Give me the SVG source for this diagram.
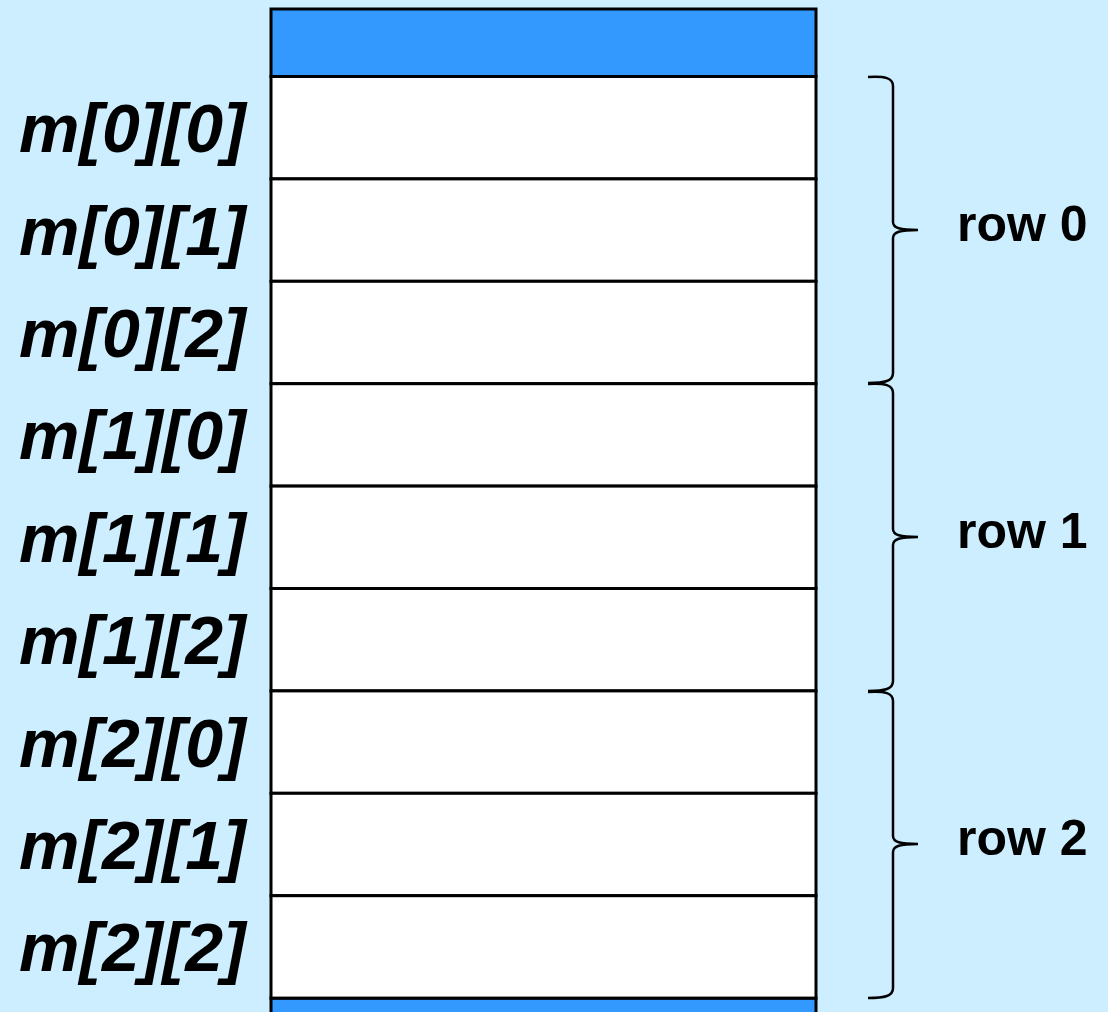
<svg xmlns="http://www.w3.org/2000/svg" width="1108" height="1012" viewBox="0 0 1108 1012">
<style>
.cell{fill:#ffffff;stroke:#000;stroke-width:3}
.band{fill:#3399ff;stroke:#000;stroke-width:3}
.lbl{font-family:"Liberation Sans",Arial,sans-serif;font-weight:bold;font-style:italic;font-size:68px;fill:#000}
.row{font-family:"Liberation Sans",Arial,sans-serif;font-weight:bold;font-size:50px;fill:#000}
.brace{fill:none;stroke:#000;stroke-width:2.5}
</style>
<rect x="0" y="0" width="1108" height="1012" fill="#cceeff"/>
<g id="memory">
<rect class="band" x="271" y="9" width="545" height="67.5"/>
<rect class="band" x="271" y="998.1" width="545" height="30"/>
</g>
<g id="m00"><rect class="cell" x="271" y="76.5" width="545" height="102.4"/><text class="lbl" x="19" y="152">m[0][0]</text></g>
<g id="m01"><rect class="cell" x="271" y="178.9" width="545" height="102.4"/><text class="lbl" x="19" y="254.5">m[0][1]</text></g>
<g id="m02"><rect class="cell" x="271" y="281.3" width="545" height="102.4"/><text class="lbl" x="19" y="357">m[0][2]</text></g>
<g id="m10"><rect class="cell" x="271" y="383.7" width="545" height="102.4"/><text class="lbl" x="19" y="459">m[1][0]</text></g>
<g id="m11"><rect class="cell" x="271" y="486.1" width="545" height="102.4"/><text class="lbl" x="19" y="562">m[1][1]</text></g>
<g id="m12"><rect class="cell" x="271" y="588.5" width="545" height="102.4"/><text class="lbl" x="19" y="664">m[1][2]</text></g>
<g id="m20"><rect class="cell" x="271" y="690.9" width="545" height="102.4"/><text class="lbl" x="19" y="766.5">m[2][0]</text></g>
<g id="m21"><rect class="cell" x="271" y="793.3" width="545" height="102.4"/><text class="lbl" x="19" y="869">m[2][1]</text></g>
<g id="m22"><rect class="cell" x="271" y="895.7" width="545" height="102.4"/><text class="lbl" x="19" y="971">m[2][2]</text></g>
<g id="connectors">
<path class="brace" d="M868,77 C885,76 893,78 893,86 L893,222 C893,228 900,230 918,230 C900,230 893,232 893,238 L893,373 C893,381 885,383 868,383"/>
<path class="brace" d="M868,384 C885,383 893,385 893,393 L893,529 C893,535 900,537 918,537 C900,537 893,539 893,545 L893,681 C893,689 885,691 868,691"/>
<path class="brace" d="M868,692 C885,691 893,693 893,701 L893,836 C893,842 900,844 918,844 C900,844 893,846 893,852 L893,988 C893,996 885,998 868,998"/>
</g>
<g id="row0"><text class="row" x="957" y="241">row 0</text></g>
<g id="row1"><text class="row" x="957" y="548">row 1</text></g>
<g id="row2"><text class="row" x="957" y="855">row 2</text></g>
</svg>
